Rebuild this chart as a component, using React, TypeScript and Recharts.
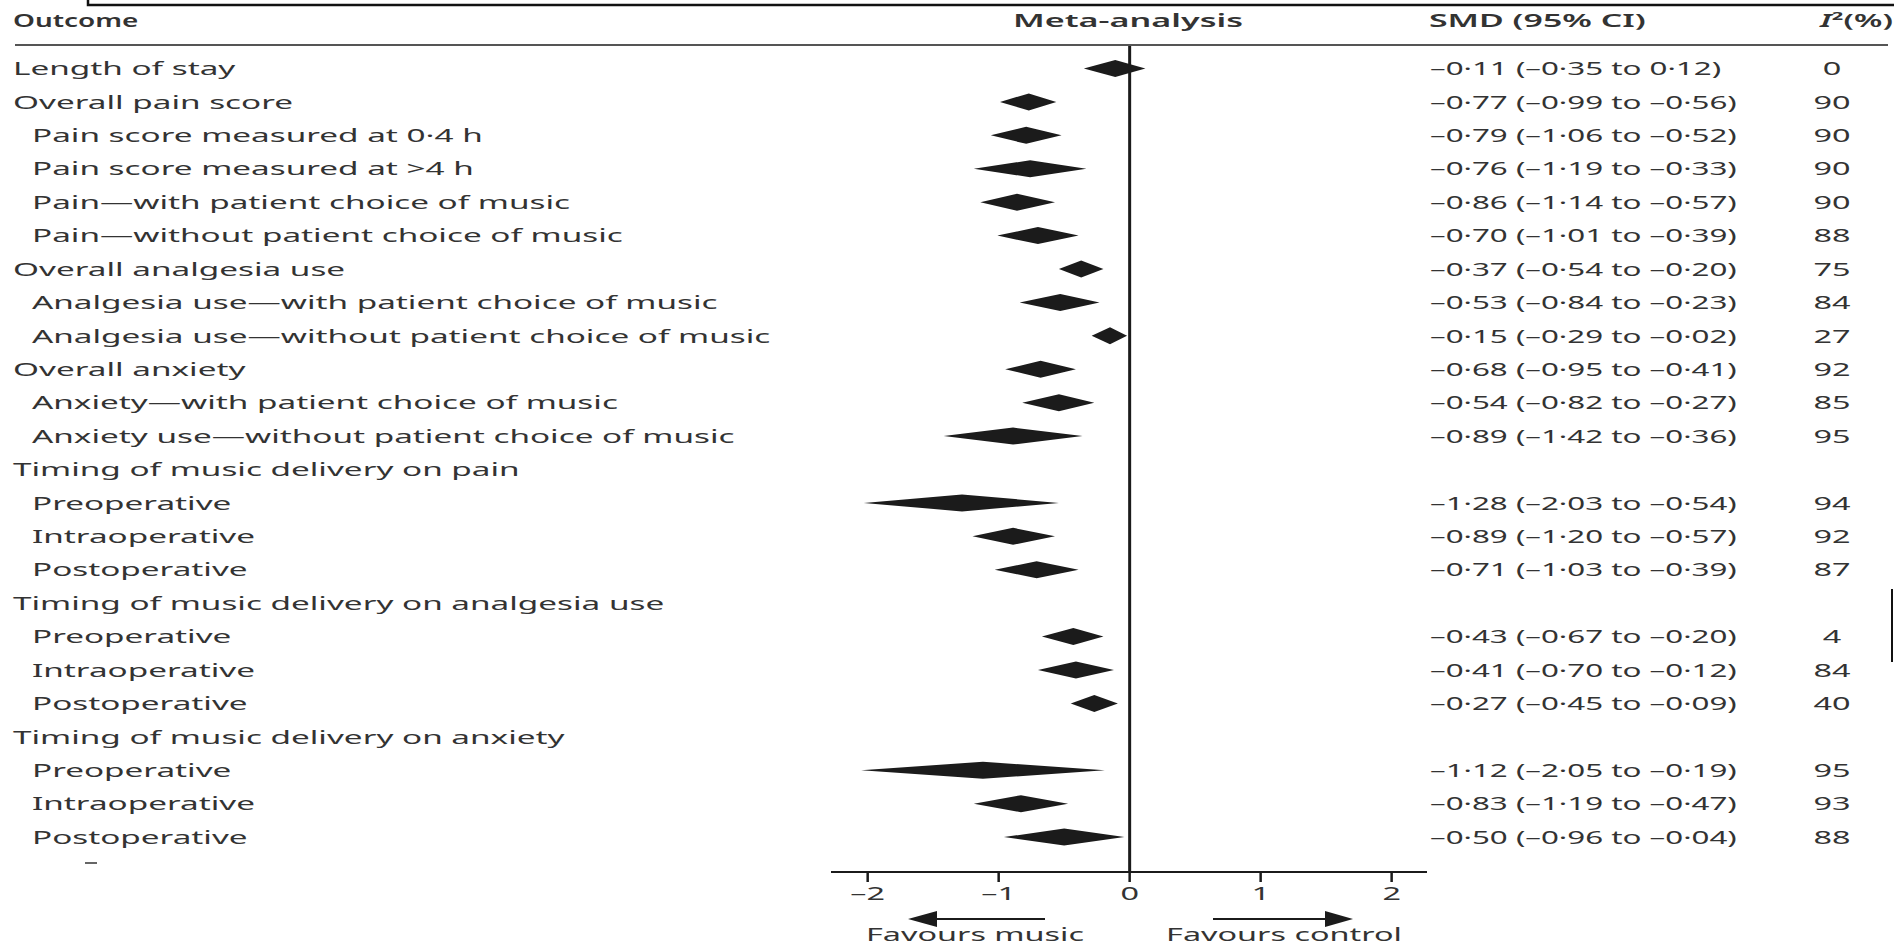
import { Bar, ComposedChart, ReferenceLine, XAxis, YAxis } from "recharts";

// rows of the forest plot, top to bottom
const labels = [
  "Length of stay",
  "Overall pain score",
  "Pain score measured at 0·4 h",
  "Pain score measured at >4 h",
  "Pain—with patient choice of music",
  "Pain—without patient choice of music",
  "Overall analgesia use",
  "Analgesia use—with patient choice of music",
  "Analgesia use—without patient choice of music",
  "Overall anxiety",
  "Anxiety—with patient choice of music",
  "Anxiety use—without patient choice of music",
  "Timing of music delivery on pain",
  "Preoperative",
  "Intraoperative",
  "Postoperative",
  "Timing of music delivery on analgesia use",
  "Preoperative",
  "Intraoperative",
  "Postoperative",
  "Timing of music delivery on anxiety",
  "Preoperative",
  "Intraoperative",
  "Postoperative",
];
const isSub = [
  false, false, true, true, true, true, false, true, true, false, true, true,
  false, true, true, true, false, true, true, true, false, true, true, true,
];
const smd = [
  -0.11, -0.77, -0.79, -0.76, -0.86, -0.7, -0.37, -0.53, -0.15, -0.68, -0.54, -0.89,
  null, -1.28, -0.89, -0.71, null, -0.43, -0.41, -0.27, null, -1.12, -0.83, -0.5,
];
const ciLow = [
  -0.35, -0.99, -1.06, -1.19, -1.14, -1.01, -0.54, -0.84, -0.29, -0.95, -0.82, -1.42,
  null, -2.03, -1.2, -1.03, null, -0.67, -0.7, -0.45, null, -2.05, -1.19, -0.96,
];
const ciHigh = [
  0.12, -0.56, -0.52, -0.33, -0.57, -0.39, -0.2, -0.23, -0.02, -0.41, -0.27, -0.36,
  null, -0.54, -0.57, -0.39, null, -0.2, -0.12, -0.09, null, -0.19, -0.47, -0.04,
];
const iSquared = [
  0, 90, 90, 90, 90, 88, 75, 84, 27, 92, 85, 95,
  null, 94, 92, 87, null, 4, 84, 40, null, 95, 93, 88,
];
const xTicks = [-2, -1, 0, 1, 2];

const rows = labels.map((label, i) => ({
  id: String(i),
  label,
  sub: isSub[i],
  est: smd[i],
  low: ciLow[i],
  high: ciHigh[i],
  i2: iSquared[i],
  range: smd[i] == null ? null : [ciLow[i], ciHigh[i]],
}));

const FONT = "'Noto Sans', 'Open Sans', sans-serif";
const INK = "#1b1b1b";
const TXT = "#333";
// the figure is stretched sideways, so text is too
const SX = 1.8;
const SX_LABEL = 1.85;
const SX_NUM = 1.74;

const fmt = (v: number) => (v < 0 ? "–" : "") + Math.abs(v).toFixed(2).replace(".", "·");

function SText({ x, y, anchor = "start", weight = 400, sx = SX, children }: any) {
  return (
    <text
      transform={`translate(${x} ${y}) scale(${sx} 1)`}
      textAnchor={anchor}
      fontFamily={FONT}
      fontSize={18}
      fontWeight={weight}
      fill={TXT}
    >
      {children}
    </text>
  );
}

function RowTick({ y, payload }: any) {
  const r = rows[Number(payload.value)];
  if (!r) return null;
  const base = y + 6.5;
  return (
    <g>
      <SText x={r.sub ? 32 : 13} y={base} sx={SX_LABEL}>{r.label}</SText>
      {r.est != null && (
        <SText x={1430} y={base} sx={SX_NUM}>{`${fmt(r.est)} (${fmt(r.low)} to ${fmt(r.high)})`}</SText>
      )}
      {r.i2 != null && (
        <SText x={1832} y={base} anchor="middle">{String(r.i2)}</SText>
      )}
    </g>
  );
}

function AxisTick({ x, y, payload }: any) {
  const v = Number(payload.value);
  return (
    <SText x={x} y={y + 16} anchor="middle">
      {v < 0 ? `–${Math.abs(v)}` : String(v)}
    </SText>
  );
}

function Diamond(props: any) {
  const { x, y, width, height, payload } = props;
  if (!payload || payload.est == null) return null;
  const x0 = Math.min(x, x + width);
  const x1 = Math.max(x, x + width);
  const t = (payload.est - payload.low) / (payload.high - payload.low);
  const xm = x0 + t * (x1 - x0);
  const cy = y + height / 2;
  return <polygon points={`${x0},${cy} ${xm},${y} ${x1},${cy} ${xm},${y + height}`} fill={INK} />;
}

export default function App() {
  return (
    <div style={{ position: "absolute", left: 0, top: 0, width: 1894, height: 947, background: "#fff" }}>
      <style>{"html,body{margin:0;padding:0;overflow:hidden;background:#fff}"}</style>
      <ComposedChart
        width={1894}
        height={947}
        data={rows}
        layout="vertical"
        margin={{ top: 45, right: 467, bottom: 0, left: 0 }}
      >
        <XAxis
          type="number"
          domain={[-2.28, 2.27]}
          ticks={xTicks}
          allowDataOverflow
          interval={0}
          height={75}
          tickSize={10}
          axisLine={{ stroke: INK, strokeWidth: 2 }}
          tickLine={{ stroke: INK, strokeWidth: 2.5 }}
          tick={(p: any) => <AxisTick {...p} />}
        />
        <YAxis
          type="category"
          dataKey="id"
          width={831}
          interval={0}
          axisLine={false}
          tickLine={false}
          padding={{ top: 7, bottom: 18 }}
          tick={(p: any) => <RowTick {...p} />}
        />
        <ReferenceLine x={0} stroke={INK} strokeWidth={3} />
        <Bar dataKey="range" barSize={17} shape={(p: any) => <Diamond {...p} />} isAnimationActive={false} />
      </ComposedChart>
      <svg width={1894} height={947} style={{ position: "absolute", left: 0, top: 0, pointerEvents: "none" }}>
        <polyline points="88,0 88,5 1894,5" fill="none" stroke="#111" strokeWidth={2.5} />
        <line x1={15} y1={45} x2={1888} y2={45} stroke="#555" strokeWidth={2} />
        <SText x={13} y={27} weight={600} sx={1.55}>Outcome</SText>
        <SText x={1128} y={27} anchor="middle" weight={600} sx={1.9}>Meta-analysis</SText>
        <SText x={1429} y={27} weight={600} sx={1.88}>SMD (95% CI)</SText>
        <SText x={1820} y={27} weight={600}>
          <tspan fontStyle="italic">I</tspan>
          <tspan>²(%)</tspan>
        </SText>
        <line x1={937} y1={919} x2={1045} y2={919} stroke={INK} strokeWidth={2} />
        <polygon points="908,919 937,911 937,927" fill={INK} />
        <line x1={1213} y1={919} x2={1325} y2={919} stroke={INK} strokeWidth={2} />
        <polygon points="1353,919 1325,911 1325,927" fill={INK} />
        <SText x={975} y={941} anchor="middle">Favours music</SText>
        <SText x={1284} y={941} anchor="middle">Favours control</SText>
        <line x1={85} y1={863} x2={97} y2={863} stroke="#666" strokeWidth={2} />
        <line x1={1892} y1={589} x2={1892} y2={662} stroke="#111" strokeWidth={2} />
      </svg>
    </div>
  );
}
